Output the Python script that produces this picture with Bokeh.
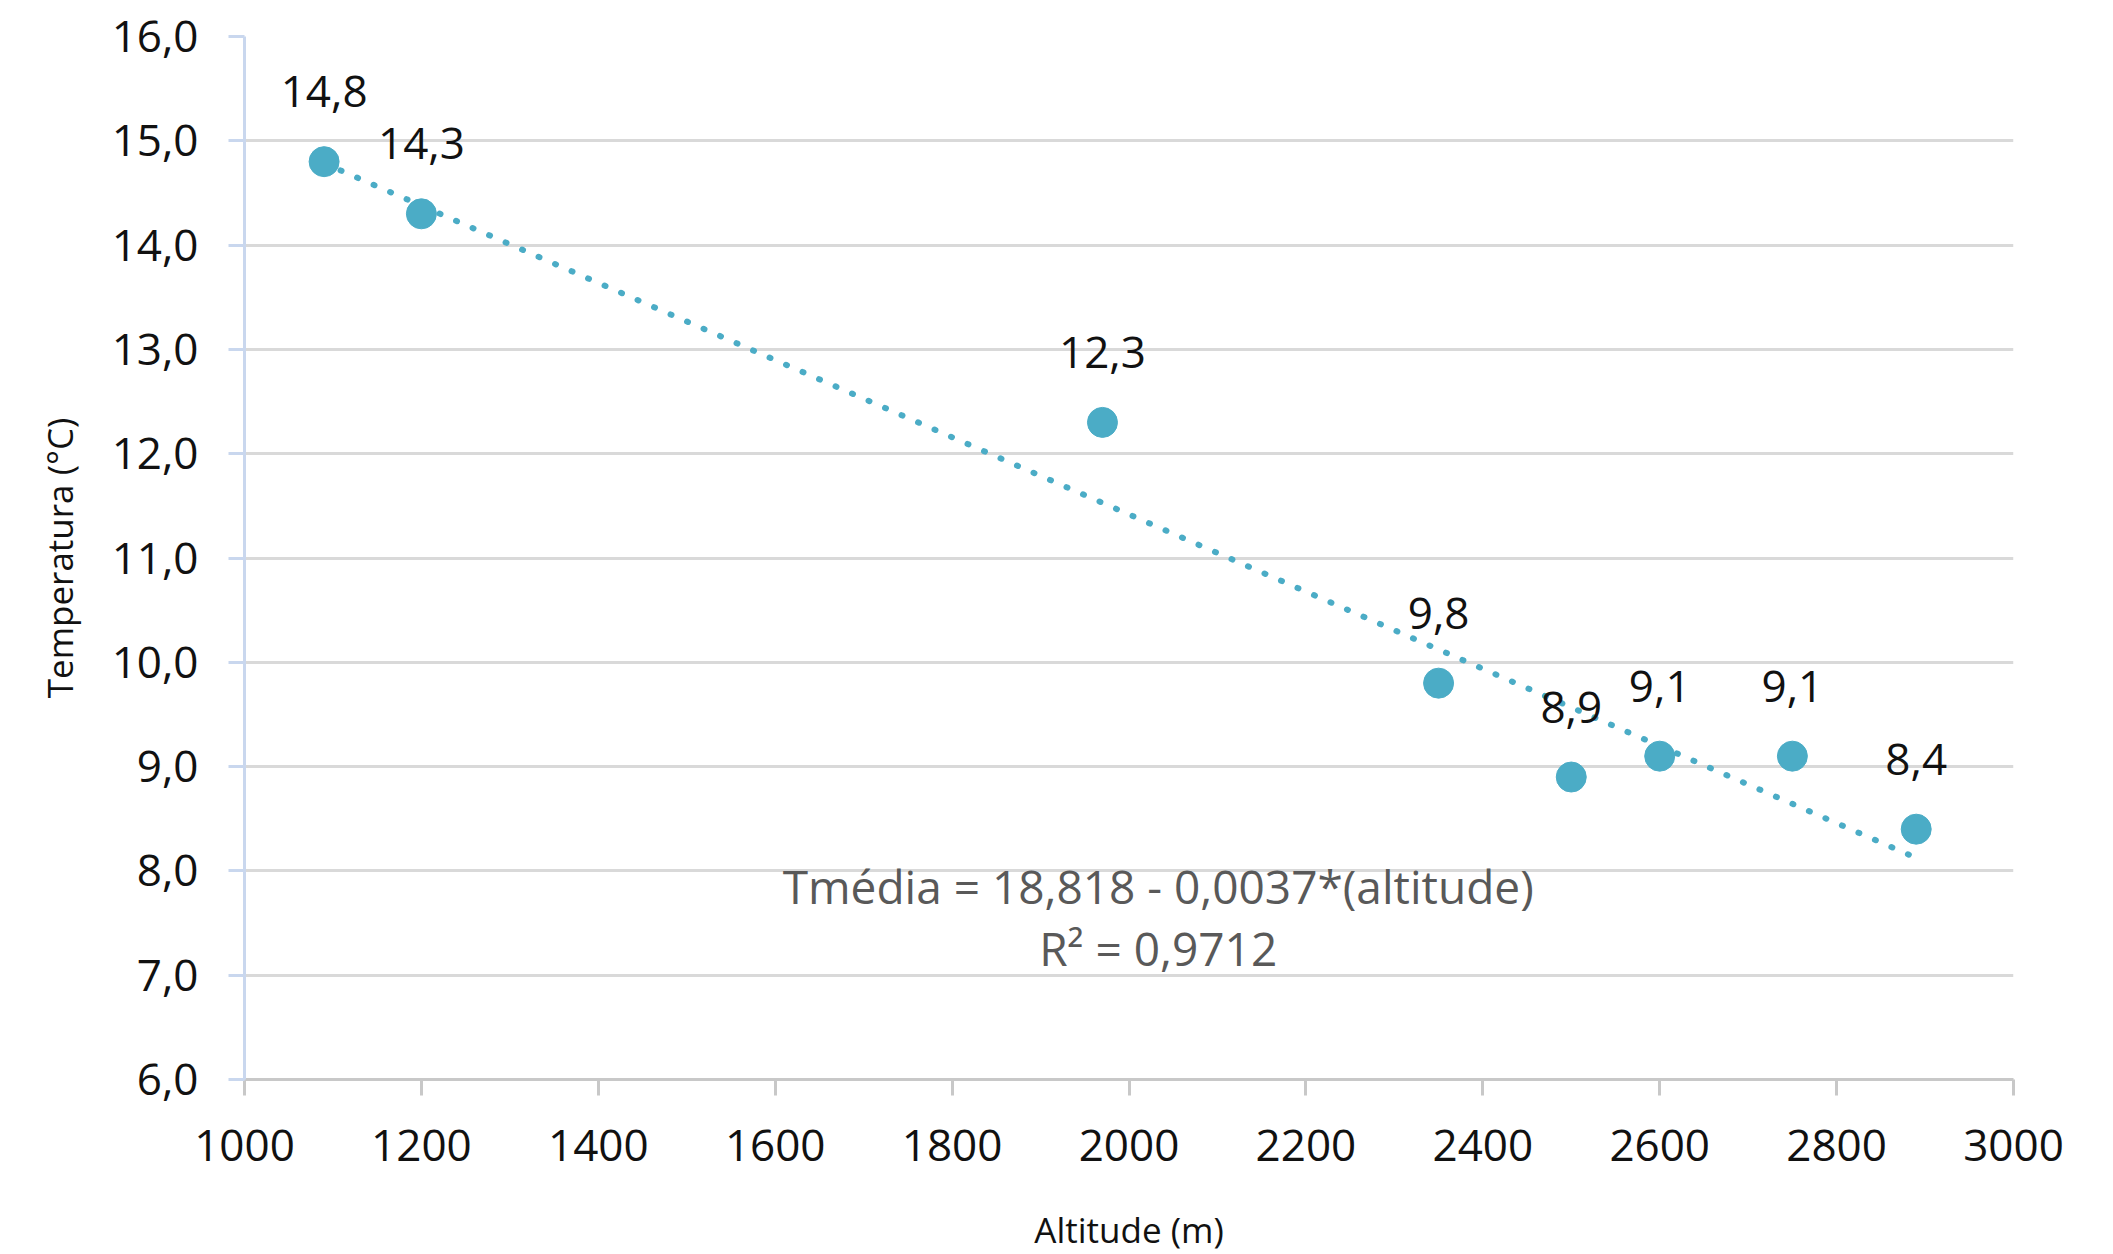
from bokeh.plotting import figure
from bokeh.models import Range1d, FixedTicker, ColumnDataSource, LabelSet, Label
from bokeh.core.properties import value
from bokeh.embed import file_html
from bokeh.resources import INLINE

# ---- data ----
altitude = [1090, 1200, 1970, 2350, 2500, 2600, 2750, 2890]
temperature = [14.8, 14.3, 12.3, 9.8, 8.9, 9.1, 9.1, 8.4]
point_labels = ["14,8", "14,3", "12,3", "9,8", "8,9", "9,1", "9,1", "8,4"]
x_ticks = [1000, 1200, 1400, 1600, 1800, 2000, 2200, 2400, 2600, 2800, 3000]
y_ticks = [6, 7, 8, 9, 10, 11, 12, 13, 14, 15, 16]
y_tick_labels = ["6,0", "7,0", "8,0", "9,0", "10,0", "11,0", "12,0", "13,0", "14,0", "15,0", "16,0"]
intercept = 18.818
slope = -0.0037
equation_text = "Tmédia = 18,818 - 0,0037*(altitude)"
r2_text = "R² = 0,9712"
x_title = "Altitude (m)"
y_title = "Temperatura (°C)"

BLUE = "#4bacc6"
FONT = "Open Sans"

p = figure(frame_width=1769, frame_height=1043,
           min_border_left=244, min_border_right=92, min_border_top=36, min_border_bottom=172,
           x_range=Range1d(1000, 3000), y_range=Range1d(6, 16),
           output_backend="svg", toolbar_location=None,
           background_fill_color="white", border_fill_color="white")
p.outline_line_color = None

# axes
p.xaxis.ticker = FixedTicker(ticks=x_ticks)
p.yaxis.ticker = FixedTicker(ticks=y_ticks)
p.yaxis.major_label_overrides = {t: l for t, l in zip(y_ticks, y_tick_labels)}
for ax in (p.xaxis[0], p.yaxis[0]):
    ax.major_label_text_font = FONT
    ax.major_label_text_font_size = "44px"
    ax.major_label_text_color = "#111111"
    ax.minor_tick_line_color = None
    ax.major_tick_in = 0
    ax.major_tick_out = 16
    ax.major_tick_line_width = 3
    ax.axis_line_width = 3
    ax.axis_label_text_font = FONT
    ax.axis_label_text_font_size = "35px"
    ax.axis_label_text_font_style = "normal"
    ax.axis_label_text_color = "#111111"

p.xaxis.axis_line_color = "#c8c8c8"
p.xaxis.major_tick_line_color = "#c8c8c8"
p.xaxis.major_label_standoff = 34
p.xaxis.axis_label = x_title
p.xaxis.axis_label_standoff = 42

p.yaxis.axis_line_color = "#c9d7ee"
p.yaxis.major_tick_line_color = "#c9d7ee"
p.yaxis.major_label_standoff = 30
p.yaxis.axis_label = y_title
p.yaxis.axis_label_standoff = 26

p.xgrid.grid_line_color = None
p.ygrid.grid_line_color = "#d9d9d9"
p.ygrid.grid_line_width = 3

# trend line
tx = [altitude[0], altitude[-1]]
ty = [intercept + slope * v for v in tx]
p.line(tx, ty, line_color=BLUE, line_width=6, line_dash="1 17", line_cap="round")

# points
src = ColumnDataSource(dict(x=altitude, y=temperature, lbl=point_labels))
p.scatter("x", "y", source=src, size=30, fill_color=BLUE, line_color=BLUE)

labels = LabelSet(x="x", y="y", text="lbl", source=src, y_offset=70,
                  text_align="center", text_baseline="middle",
                  text_font=value(FONT), text_font_size=value("44px"), text_color="#111111")
p.add_layout(labels)

# equation
p.add_layout(Label(x=2033, y=7.86, text=equation_text, text_align="center", text_baseline="middle",
                   text_font=FONT, text_font_size="46px", text_color="#595959"))
p.add_layout(Label(x=2033, y=7.26, text=r2_text, text_align="center", text_baseline="middle",
                   text_font=FONT, text_font_size="46px", text_color="#595959"))

open("out.html", "w").write(file_html(p, INLINE))
